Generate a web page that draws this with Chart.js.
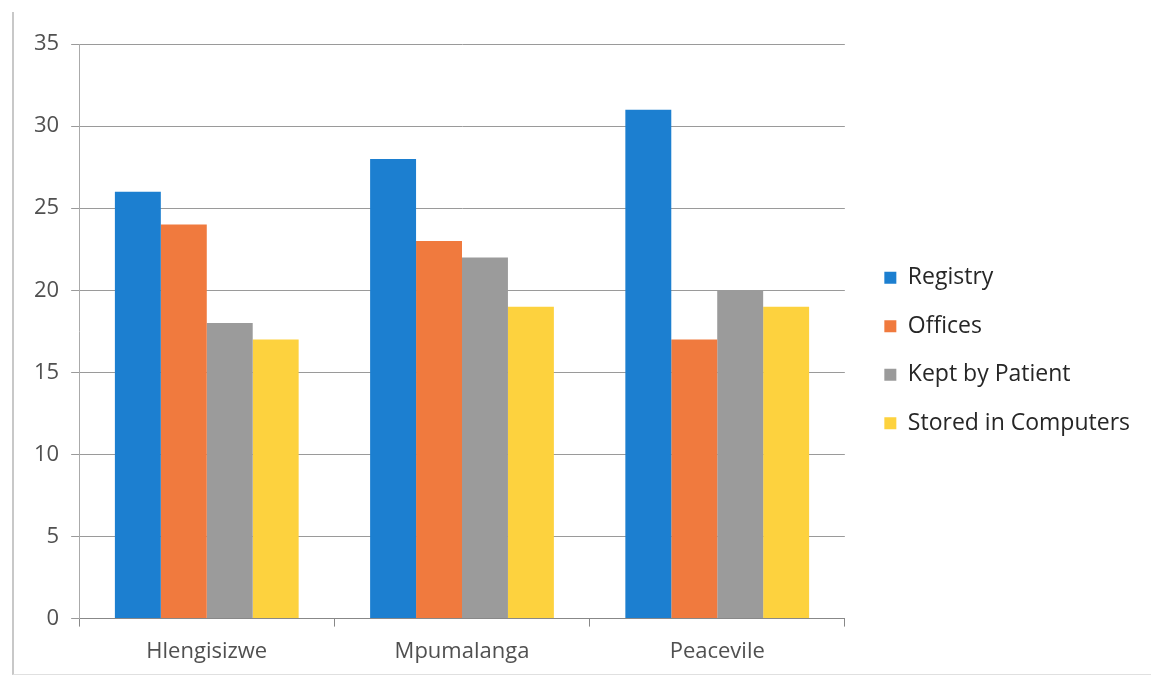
<!DOCTYPE html>
<html><head><meta charset="utf-8">
<script src="https://cdn.jsdelivr.net/npm/chart.js@4/dist/chart.umd.min.js"></script>
<style>
html,body{margin:0;padding:0;background:#fff;}
#wrap{position:relative;width:1151px;height:677px;}
#frame{position:absolute;left:12px;top:12px;width:1139px;height:662px;border-left:2px solid #c8c8c8;border-bottom:1px solid #e0e0e0;}
canvas{position:absolute;left:0;top:0;}
</style></head>
<body><div id="wrap"><div id="frame"></div><canvas id="c" width="1151" height="677"></canvas></div>
<script>
const categories = ["Hlengisizwe", "Mpumalanga", "Peacevile"];
const seriesNames = ["Registry", "Offices", "Kept by Patient", "Stored in Computers"];
const registry = [26, 28, 31];
const offices = [24, 23, 17];
const keptByPatient = [18, 22, 20];
const storedInComputers = [17, 19, 19];
const yTicks = [0, 5, 10, 15, 20, 25, 30, 35];
const colors = ["#1c7fd0", "#f07a3e", "#9b9b9b", "#fdd23e"];
const values = [registry, offices, keptByPatient, storedInComputers];

const FONT = "'Open Sans', 'Liberation Sans', sans-serif";
const legendShift = {
  id: 'legendShift',
  afterLayout(chart) {
    if (chart.legend) { chart.legend.top -= 10; chart.legend.bottom -= 10; }
  }
};
new Chart(document.getElementById('c'), {
  type: 'bar',
  data: {
    labels: categories,
    datasets: seriesNames.map((n, i) => ({
      label: n, data: values[i], backgroundColor: colors[i],
      categoryPercentage: 0.72, barPercentage: 1.0, borderWidth: 0
    }))
  },
  plugins: [legendShift],
  options: {
    responsive: false, animation: false,
    layout: {padding: {left: 22, top: 44, right: 11, bottom: 0}},
    plugins: {
      tooltip: {enabled: false},
      legend: {
        position: 'right', align: 'center', maxWidth: 400,
        labels: {
          boxWidth: 12, boxHeight: 12, padding: 25.5,
          color: '#262626', font: {family: FONT, size: 23}
        }
      }
    },
    scales: {
      x: {
        offset: true,
        grid: {offset: true, drawOnChartArea: false, color: '#888', tickLength: 8},
        border: {color: '#888'},
        ticks: {color: '#505050', font: {family: FONT, size: 22}, padding: 12}
      },
      y: {
        min: 0, max: 35,
        afterBuildTicks: (s) => { s.ticks = yTicks.map(v => ({value: v})); },
        grid: {color: '#9a9a9a', tickLength: 8},
        border: {color: '#aaa'},
        ticks: {color: '#505050', font: {family: FONT, size: 22}, padding: 12}
      },
      yGap: {
        position: 'right', display: true,
        afterFit: (s) => { s.width = 14; },
        grid: {display: false}, border: {display: false}, ticks: {display: false}
      }
    }
  }
});
</script></body></html>
